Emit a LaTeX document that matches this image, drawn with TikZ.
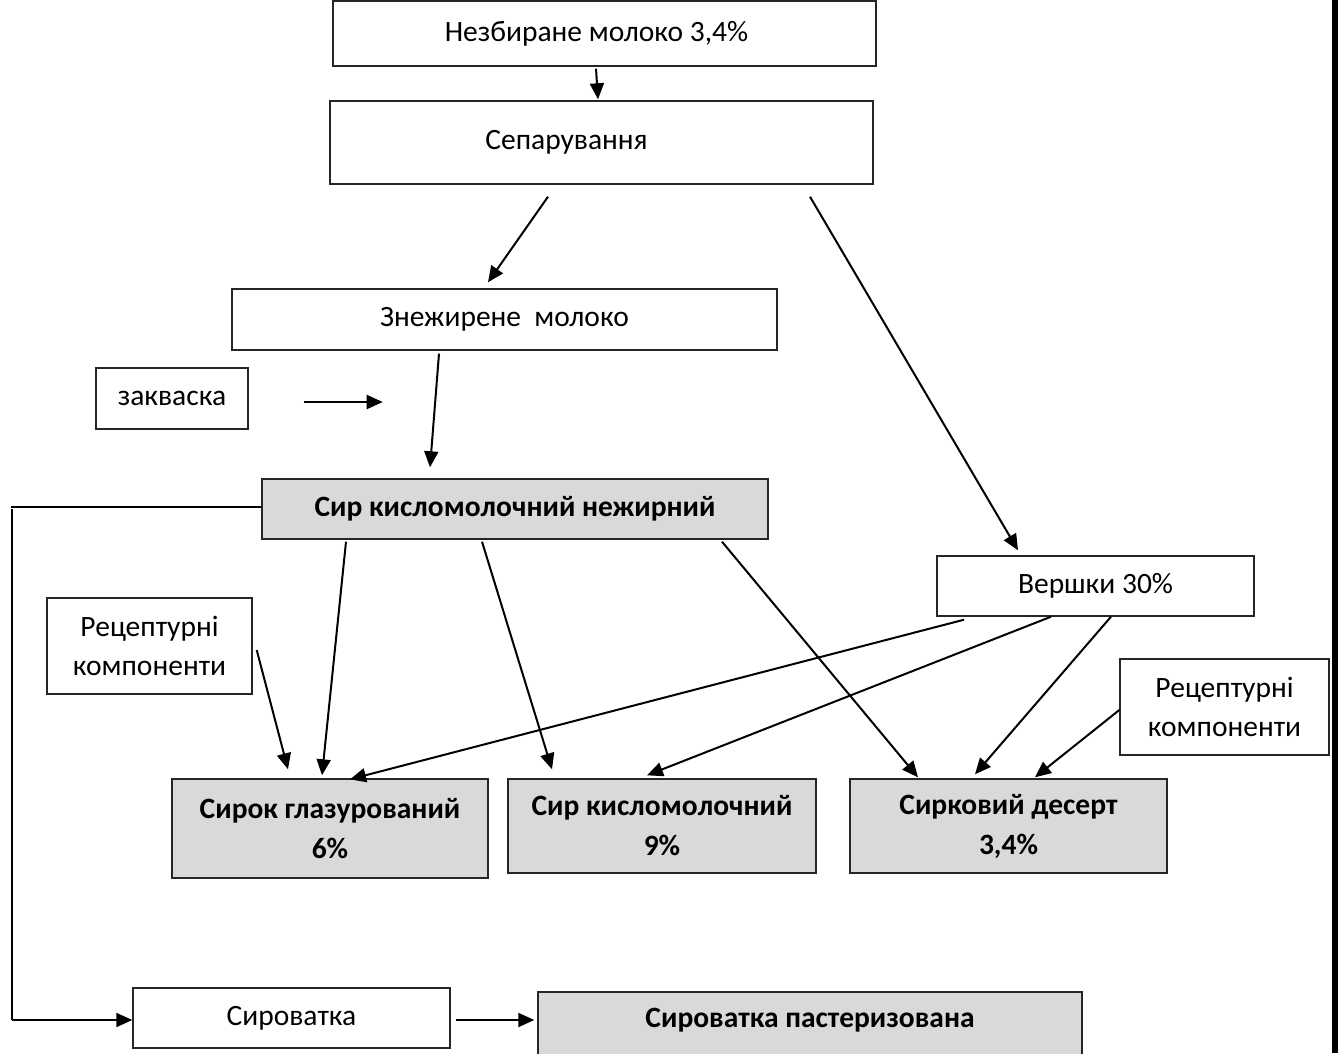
\documentclass[tikz,border=0pt]{standalone}
\usepackage{fontspec}
\setmainfont{Carlito}
\usetikzlibrary{arrows.meta,calc}
\definecolor{boxgray}{HTML}{D9D9D9}
\begin{document}
\begin{tikzpicture}[x=1pt,y=-1pt,
  box/.style={draw=black!85, line width=1.4pt, fill=white, inner sep=0pt, align=center,
    font=\fontsize{29.5}{39}\selectfont},
  gbox/.style={box, fill=boxgray, font=\fontsize{29.5}{40}\selectfont\bfseries},
  arr/.style={line width=2pt, -{Triangle[length=16pt,width=14pt]}},
  plain/.style={line width=2pt}]
\useasboundingbox (0,0) rectangle (1338,1053);
% page edge line at right
\fill[black] (1332,0) rectangle (1338,1053);

% nodes
\node[box, minimum width=543pt, minimum height=65pt] (n1) at (604.5,33.5) {\hspace*{-16pt}Незбиране молоко 3,4\%};
\node[box, minimum width=543pt, minimum height=83pt] (n2) at (601.5,142.5) {\raisebox{3pt}{\hspace*{-70pt}Сепарування}};
\node[box, minimum width=545pt, minimum height=61pt] (n3) at (504.5,319.5) {Знежирене\ \ молоко};
\node[box, minimum width=152pt, minimum height=61pt] (zakv) at (172,398.5) {закваска};
\node[gbox, minimum width=506pt, minimum height=60pt] (n4) at (515,509) {Сир кисломолочний нежирний};
\node[box, minimum width=317pt, minimum height=60pt] (versh) at (1095.5,586) {Вершки 30\%};
\node[box, minimum width=205pt, minimum height=96pt] (rec1) at (149.5,646) {Рецептурні\\компоненти};
\node[box, minimum width=209pt, minimum height=96pt] (rec2) at (1224.5,707) {Рецептурні\\компоненти};
\node[gbox, minimum width=316pt, minimum height=99pt] (p1) at (330,828.5) {Сирок глазурований\\6\%};
\node[gbox, minimum width=308pt, minimum height=94pt] (p2) at (662,826) {Сир кисломолочний\\9\%};
\node[gbox, minimum width=317pt, minimum height=94pt] (p3) at (1008.5,826) {Сирковий десерт\\3,4\%};
\node[box, minimum width=317pt, minimum height=60pt] (syr) at (291.5,1018) {Сироватка};
\node[gbox, minimum width=544pt, minimum height=80pt] (past) at (810,1032) {\raisebox{5pt}[0pt][0pt]{Сироватка пастеризована}};

% connectors
\draw[arr] ($(n1.south)+(-8.5,2)$) -- ($(n2.north)+(-3.5,-1)$);
\draw[arr] ($(n2.south)+(-53.5,12)$) -- ($(n3.north)+(-16.5,-6)$);
\draw[arr] ($(n2.south)+(208.5,12)$) -- ($(versh.north)+(-77.5,-5)$);
\coordinate (zend) at ($(zakv.east)+(134,3.5)$);
\draw[arr] ($(zakv.east)+(55,3.5)$) -- (zend);
\draw[arr] ($(n3.south)+(-65.5,3)$) -- ($(n4.north)+(-85,-11)$);
\draw[arr] ($(n4.south)+(-169,2)$) -- ($(p1.north)+(-8,-3)$);
\draw[arr] ($(n4.south)+(-33,2)$) -- ($(p2.north)+(-110,-9)$);
\draw[arr] ($(n4.south)+(207,2)$) -- ($(p3.north)+(-90.5,-1)$);
\draw[arr] ($(rec1.east)+(4,4)$) -- ($(p1.north)+(-42,-9)$);
\draw[arr] ($(versh.south)+(-131.5,3)$) -- ($(p1.north)+(20,1)$);
\draw[arr] ($(versh.south)+(-44.5,0)$) -- ($(p2.north)+(-15,-3)$);
\draw[arr] ($(versh.south)+(15.5,0)$) -- ($(p3.north)+(-33.5,-4)$);
\draw[arr] ($(rec2.west)+(0,3)$) -- ($(p3.north)+(26.5,-1)$);
\coordinate (cA) at (11,507);
\coordinate (cB) at (12,1020);
\draw[plain] ($(n4.west)+(0,-2)$) -- (cA);
\draw[plain] (12,509) -- (cB);
\draw[arr] (cB) -- ($(syr.west)+(0,2)$);
\draw[arr] ($(syr.east)+(5,2)$) -- ($(past.west)+(-3,-12)$);
\end{tikzpicture}
\end{document}
